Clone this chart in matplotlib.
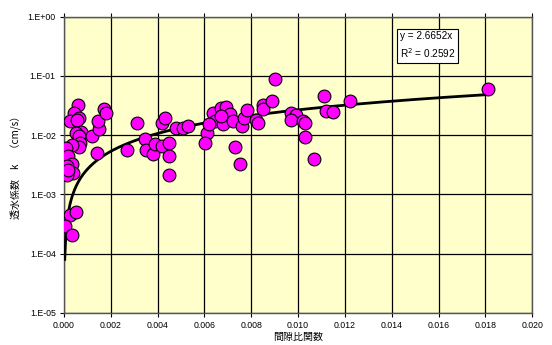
import numpy as np
import matplotlib
matplotlib.use("Agg")
import matplotlib.pyplot as plt
from matplotlib.ticker import FixedLocator, FuncFormatter

plt.rcParams['font.family'] = ['Liberation Sans', 'Noto Sans CJK JP', 'DejaVu Sans']

# data: void ratio function (x) vs permeability k (cm/s)
x_vals = [0.00061, 0.00043, 0.00026, 0.00065, 0.00054, 0.00071, 0.00051, 0.00065,
          0.00068, 0.00065, 0.00033, 0.00009, 0.00018, 0.00033, 0.00011, 0.00040,
          0.00011, 0.00018, 0.00026, 0.00051, 0.00004, 0.00033,
          0.00118, 0.00140, 0.00150, 0.00147, 0.00172, 0.00179,
          0.00268, 0.00310, 0.00346, 0.00350, 0.00380, 0.00390, 0.00420, 0.00450,
          0.00450, 0.00450, 0.00420, 0.00430, 0.00480, 0.00510, 0.00530,
          0.00612, 0.00603, 0.00635, 0.00645, 0.00620, 0.00670, 0.00690, 0.00710,
          0.00680, 0.00670, 0.00720, 0.00760, 0.00770, 0.00780, 0.00730, 0.00750,
          0.00820, 0.00830, 0.00850, 0.00850, 0.00890, 0.00900,
          0.00970, 0.00990, 0.00970, 0.01020, 0.01030, 0.01030, 0.01070,
          0.01110, 0.01120, 0.01150, 0.01220, 0.01813]
k_vals = [0.0324, 0.0235, 0.0170, 0.0194, 0.0177, 0.0115, 0.0110, 0.0095,
          0.0075, 0.0064, 0.0069, 0.0060, 0.0044, 0.0032, 0.0030, 0.0023,
          0.0021, 0.0026, 0.00045, 0.00050, 0.00029, 0.00021,
          0.0095, 0.0050, 0.0126, 0.0174, 0.0275, 0.0240,
          0.0056, 0.0160, 0.0086, 0.0056, 0.0048, 0.0071, 0.0066, 0.0073,
          0.0045, 0.0021, 0.0163, 0.0194, 0.0134, 0.0134, 0.0140,
          0.0110, 0.0074, 0.0235, 0.0174, 0.0155, 0.0285, 0.0296, 0.0230,
          0.0155, 0.0206, 0.0170, 0.0144, 0.0194, 0.0267, 0.0064, 0.0033,
          0.0177, 0.0160, 0.0324, 0.0275, 0.0380, 0.0890,
          0.0240, 0.0220, 0.0180, 0.0174, 0.0160, 0.0093, 0.0039,
          0.0460, 0.0260, 0.0250, 0.0370, 0.0596]

slope = 2.6652
r2 = 0.2592
x_ticks = [0.000, 0.002, 0.004, 0.006, 0.008, 0.010, 0.012, 0.014, 0.016, 0.018, 0.020]
y_ticks = [1e-5, 1e-4, 1e-3, 1e-2, 1e-1, 1e0]
y_tick_labels = ['1.E-05', '1.E-04', '1.E-03', '1.E-02', '1.E-01', '1.E+00']

fig = plt.figure(figsize=(5.52, 3.45), dpi=100)
fig.patch.set_facecolor('white')
ax = fig.add_axes([0.116, 0.093, 0.848, 0.859])
ax.set_facecolor('#FFFFCC')

ax.set_yscale('log')
ax.set_xlim(0, 0.020)
ax.set_ylim(1e-5, 1e0)

ax.xaxis.set_major_locator(FixedLocator(x_ticks))
ax.xaxis.set_major_formatter(FuncFormatter(lambda v, p: f"{v:.3f}"))
ax.yaxis.set_major_locator(FixedLocator(y_ticks))
ax.set_yticklabels(y_tick_labels)
ax.yaxis.set_minor_locator(FixedLocator([]))

ax.grid(True, which='major', color='black', linewidth=0.9)
ax.set_axisbelow(True)

ax.tick_params(axis='both', which='major', labelsize=6.3, length=3, width=0.8,
               color='black', direction='out', pad=3)
ax.tick_params(axis='x', top=True)
for sp in ax.spines.values():
    sp.set_color('#555555')
    sp.set_linewidth(1.0)

# trendline over data range
xl = np.linspace(0.00003, max(x_vals), 400)
ax.plot(xl, slope * xl, color='black', linewidth=2.0, zorder=3)

ax.scatter(x_vals, k_vals, s=85, facecolor='#FF00FF', edgecolor='black',
           linewidth=0.8, zorder=4)

ax.text(0.01435, 0.57, f"y = {slope}x\nR$^2$ = {r2}", fontsize=7.2,
        va='top', ha='left', linespacing=1.45,
        bbox=dict(boxstyle='square,pad=0.25', facecolor='white', edgecolor='black', linewidth=0.8),
        zorder=5)

ax.set_xlabel('間隙比関数', fontsize=7.2, labelpad=1,
              family=['Noto Sans CJK JP', 'DejaVu Sans'])
ax.set_ylabel('透水係数　k　（cm/s）', fontsize=7.2, labelpad=4,
              family=['Noto Sans CJK JP', 'DejaVu Sans'])

fig.savefig('out.png', dpi=100, facecolor='white')
